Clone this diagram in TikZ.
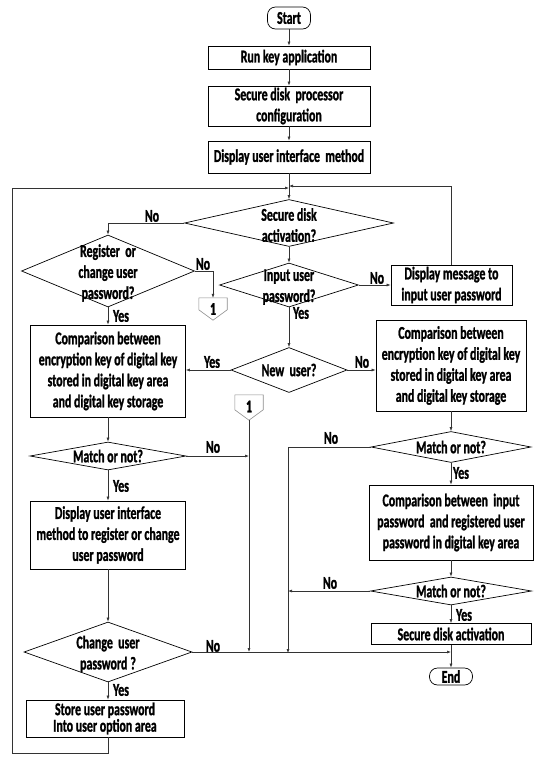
\documentclass[tikz,border=0pt]{standalone}
\usepackage{fontspec}
\setmainfont{Carlito}[FakeStretch=0.66, BoldFeatures={FakeBold=1.2}]
\usetikzlibrary{arrows.meta,shapes.geometric}

\tikzset{
  txt/.style={font=\fontsize{18}{21}\selectfont\bfseries, align=center, inner sep=0pt},
  box/.style={txt, draw=black, line width=0.7pt, rectangle},
  term/.style={txt, draw=black, line width=0.7pt, rectangle, rounded corners=8pt},
  dia/.style={draw=black, line width=0.7pt, diamond, inner sep=0pt},
  lbl/.style={txt},
  arr/.style={draw=black!80, line width=0.6pt, -{Latex[length=4pt,width=3pt]}},
  conn/.style={draw=black!45, line width=0.6pt},
}

\begin{document}
\begin{tikzpicture}[x=1pt,y=-1pt]
\useasboundingbox (0,0) rectangle (534,764);

% main column
\node[term, minimum width=43pt, minimum height=22pt] (start) at (289,18) {Start};
\node[box, minimum width=162pt, minimum height=23pt] (run) at (289,57.5) {Run key application};
\node[box, minimum width=162pt, minimum height=40pt] (cfg) at (289,106) {Secure disk\ \ processor\\configuration};
\node[box, minimum width=162pt, minimum height=32pt] (ui) at (289,157) {Display user interface\ \ method};

\node[dia, minimum width=209pt, minimum height=47pt] (act) at (289,223) {};
\node[txt] (actT) at (289,225) {Secure disk\\activation?};

\node[dia, minimum width=139pt, minimum height=44pt] (inp) at (289,285) {};
\node[txt] (inpT) at (289,287) {Input user\\password?};

\node[box, minimum width=121pt, minimum height=40pt] (msg) at (451.5,285) {Display message to\\input user password};

\node[dia, minimum width=116pt, minimum height=45pt] (newu) at (289,370) {};
\node[txt] (newuT) at (289,370) {New\ \ user?};

% left column
\node[dia, minimum width=173pt, minimum height=72pt] (reg) at (108,271) {};
\node[txt] (regT) at (108,273) {Register\ \ or\\change user\\password?};

\node[box, minimum width=155pt, minimum height=92pt] (cmpL) at (108,371)
  {Comparison between\\encryption key of digital key\\stored in digital key area\\and digital key storage};

\node[dia, minimum width=156pt, minimum height=28pt] (mL) at (108,456) {};
\node[txt] (mLT) at (108,456) {Match or not?};

\node[box, minimum width=155pt, minimum height=68pt] (dreg) at (108,535)
  {Display user interface\\method to register or change\\user password};

\node[dia, minimum width=168pt, minimum height=60pt] (chg) at (108,652) {};
\node[txt] (chgT) at (108,654) {Change\ \ user\\password\,?};

\node[box, minimum width=158pt, minimum height=37pt, font=\fontsize{18}{14}\selectfont\bfseries] (store) at (105,718.5)
  {Store user password\\Into user option area};

% off-page connectors
\node[txt, minimum width=28pt, minimum height=22pt] (c1) at (213,309) {1};
\node[txt, minimum width=28pt, minimum height=25pt] (c2) at (249,407.5) {\raisebox{2pt}{1}};
\draw[conn] (c1.north west) -- (c1.north east) -- ([yshift=-12pt]c1.north east) -- (c1.south) -- ([yshift=-12pt]c1.north west) -- cycle;
\draw[conn] (c2.north west) -- (c2.north east) -- ([yshift=-15pt]c2.north east) -- (c2.south) -- ([yshift=-15pt]c2.north west) -- cycle;

% right column
\node[box, minimum width=150pt, minimum height=91pt] (cmpR) at (451,365.5)
  {Comparison between\\encryption key of digital key\\stored in digital key area\\and digital key storage};

\node[dia, minimum width=160pt, minimum height=31pt] (mR) at (451,447) {};
\node[txt] (mRT) at (451,447) {Match or not?};

\node[box, minimum width=164pt, minimum height=75pt] (cmpI) at (451,522.5)
  {Comparison between\ \ input\\password\ \ and registered user\\password in digital key area};

\node[dia, minimum width=161pt, minimum height=28pt] (mR2) at (451,591) {};
\node[txt] (mR2T) at (451,591) {Match or not?};

\node[box, minimum width=160pt, minimum height=21pt] (sda) at (451,634) {Secure disk activation};

\node[term, minimum width=43pt, minimum height=17pt] (end) at (451,676.5) {End};

% junction points
\coordinate (jl) at (289,188);
\coordinate (jr) at (289,186);
\coordinate (bus) at (288,653);

% connectors
\draw[arr] (start) -- (run);
\draw[arr] (run) -- (cfg);
\draw[arr] (cfg) -- (ui);
\draw[arr] (ui.south) -- (act.north);
\draw[arr] (msg.north) |- (jr);
\draw[arr] (store.south -| chg.south) -- ++(0,16) -| (12,188) -- (jl);

\draw[arr] (act.west) -| (reg.north);
\draw[arr] (act.south) -- (inp.north);
\draw[arr] (inp.east) -- (inp.east -| msg.west);
\draw[arr] (inp.south) -- (newu.north);
\draw[arr] (reg.east) -| (c1.north);
\draw[arr] (reg.south) -- (reg.south |- cmpL.north);
\draw[arr] (newu.west) -- (newu.west -| cmpL.east);
\draw[arr] (newu.east) -- (newu.east -| cmpR.west);

\draw[arr] (cmpL.south) -- (mL.north);
\draw[arr] (mL.east) -- (mL.east -| c2.south);
\draw[arr] (c2.south) -- (c2.south |- chg.east);
\draw[arr] (mL.south) -- (dreg.north);
\draw[arr] (dreg.south) -- (chg.north);
\draw[arr] (chg.east) -- (chg.east -| sda.south);
\draw[arr] (chg.south) -- (chg.south |- store.north);

\draw[arr] (cmpR.south) -- (mR.north);
\draw[arr] (mR.west) -| (bus);
\draw[arr] (mR.south) -- (cmpI.north);
\draw[arr] (cmpI.south) -- (mR2.north);
\draw[arr] (mR2.west) -- (mR2.west -| bus);
\draw[arr] (mR2.south) -- (sda.north);
\draw[arr] (sda.south) -- (end.north);

% branch labels
\node[lbl] (n1) at (152,216) {No};
\node[lbl] (n2) at (203,264) {No};
\node[lbl] (y1) at (121,316) {Yes};
\node[lbl] (n3) at (377,278) {No};
\node[lbl] (y2) at (301,313) {Yes};
\node[lbl] (y3) at (212,362) {Yes};
\node[lbl] (n4) at (362,362) {No};
\node[lbl] (n5) at (213,447) {No};
\node[lbl] (y4) at (121,486) {Yes};
\node[lbl] (n6) at (331,438) {No};
\node[lbl] (y5) at (461,473) {Yes};
\node[lbl] (n7) at (330,583) {No};
\node[lbl] (y6) at (464,615) {Yes};
\node[lbl] (n8) at (213,646) {No};
\node[lbl] (y7) at (121,690) {Yes};
\end{tikzpicture}
\end{document}
